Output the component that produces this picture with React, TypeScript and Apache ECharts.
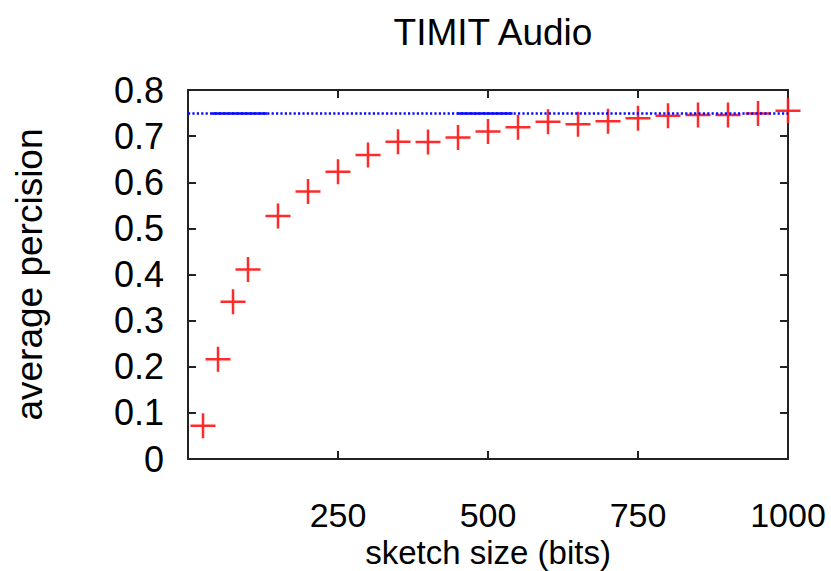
import React, { useEffect, useRef } from "react";
import * as echarts from "echarts";

const sketchSizes = [25, 50, 75, 100, 150, 200, 250, 300, 350, 400, 450, 500, 550, 600, 650, 700, 750, 800, 850, 900, 950, 1000];
const avgPrecision = [0.072, 0.216, 0.341, 0.411, 0.527, 0.580, 0.623, 0.659, 0.688, 0.687, 0.697, 0.710, 0.719, 0.731, 0.726, 0.732, 0.739, 0.744, 0.746, 0.746, 0.749, 0.755];
const baselineValue = 0.749;
const baselineRange = [0, 1000];
const solidSegments = [
  [40, 132],
  [449, 541],
];
const xTicks = [0, 250, 500, 750, 1000];
const yTicks = [0, 0.1, 0.2, 0.3, 0.4, 0.5, 0.6, 0.7, 0.8];

const FONT = "'Liberation Sans', Arial, Helvetica, sans-serif";
const AXIS_COLOR = "#222222";
const RED = "#ff2020";
const BLUE = "#0a0aff";

export default function App() {
  const ref = useRef<HTMLDivElement>(null);

  useEffect(() => {
    if (!ref.current) return;
    const chart = echarts.init(ref.current, null, { renderer: "svg" });

    const xCommon = {
      type: "value",
      min: xTicks[0],
      max: xTicks[xTicks.length - 1],
      interval: 250,
      splitLine: { show: false },
      axisLine: { show: true, onZero: false, lineStyle: { color: AXIS_COLOR, width: 2 } },
      axisTick: { show: true, inside: true, length: 8, lineStyle: { color: AXIS_COLOR, width: 2 } },
    };
    const yCommon = {
      type: "value",
      min: yTicks[0],
      max: yTicks[yTicks.length - 1],
      interval: 0.1,
      splitLine: { show: false },
      axisLine: { show: true, onZero: false, lineStyle: { color: AXIS_COLOR, width: 2 } },
      axisTick: { show: true, inside: true, length: 8, lineStyle: { color: AXIS_COLOR, width: 2 } },
    };

    const segmentSeries = solidSegments.map((seg) => ({
      type: "line",
      xAxisIndex: 0,
      yAxisIndex: 0,
      data: [
        [seg[0], baselineValue],
        [seg[1], baselineValue],
      ],
      showSymbol: false,
      symbol: "none",
      lineStyle: { color: BLUE, width: 2.4, type: "solid" },
      z: 4,
      silent: true,
    }));

    chart.setOption({
      animation: false,
      backgroundColor: "#ffffff",
      title: {
        text: "TIMIT Audio",
        left: 488,
        top: 9,
        textAlign: "center",
        textStyle: { fontFamily: FONT, fontSize: 37, fontWeight: "normal", color: "#000" },
      },
      grid: {
        left: 188,
        right: 43,
        top: 90,
        bottom: 112,
        containLabel: false,
        outerBoundsMode: "none",
      },
      xAxis: [
        {
          ...xCommon,
          position: "bottom",
          name: "sketch size (bits)",
          nameLocation: "middle",
          nameGap: 77,
          nameMoveOverlap: false,
          nameTextStyle: { fontFamily: FONT, fontSize: 33, lineHeight: 33, color: "#000" },
          axisLabel: {
            show: true,
            margin: 39,
            fontFamily: FONT,
            fontSize: 34,
            lineHeight: 34,
            color: "#000",
            formatter: (v: number) => (v === 0 ? "" : String(v)),
          },
        },
        {
          ...xCommon,
          position: "top",
          axisLabel: { show: false },
        },
      ],
      yAxis: [
        {
          ...yCommon,
          position: "left",
          name: "average percision",
          nameLocation: "middle",
          nameGap: 140,
          nameMoveOverlap: false,
          nameTextStyle: { fontFamily: FONT, fontSize: 37, color: "#000" },
          axisLabel: {
            show: true,
            margin: 24,
            fontFamily: FONT,
            fontSize: 36,
            color: "#000",
            formatter: (v: number) => (Math.abs(v) < 1e-9 ? "0" : v.toFixed(1)),
          },
        },
        {
          ...yCommon,
          position: "right",
          axisLabel: { show: false },
        },
      ],
      series: [
        {
          type: "scatter",
          xAxisIndex: 0,
          yAxisIndex: 0,
          data: sketchSizes.map((x, i) => [x, avgPrecision[i]]),
          symbol: "path://M45,0H55V100H45ZM0,45H100V55H0Z",
          symbolSize: 25,
          itemStyle: { color: RED, opacity: 0.95 },
          clip: false,
          z: 3,
        },
        {
          type: "line",
          xAxisIndex: 0,
          yAxisIndex: 0,
          data: baselineRange.map((x) => [x, baselineValue]),
          showSymbol: false,
          symbol: "none",
          lineStyle: { color: BLUE, width: 2.4, type: [2.2, 2.2] },
          z: 4,
          silent: true,
        },
        ...segmentSeries,
      ],
    });

    return () => chart.dispose();
  }, []);

  return (
    <div
      ref={ref}
      style={{ position: "absolute", left: 0, top: 0, width: 831, height: 571, background: "#fff" }}
    />
  );
}
